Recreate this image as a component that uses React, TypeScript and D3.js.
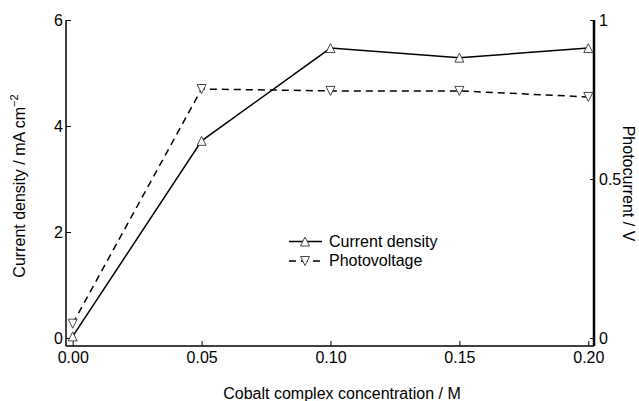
import React, { useEffect, useRef } from 'react';
import * as d3 from 'd3';

// cobalt complex concentration (M)
const concentrations = [0.0, 0.05, 0.1, 0.15, 0.2];
// current density, mA cm^-2 (left axis)
const currentDensity = [0.03, 3.72, 5.47, 5.29, 5.47];
// photovoltage, V (right axis)
const photovoltage = [0.045, 0.783, 0.777, 0.777, 0.758];

const xTicks = [0, 0.05, 0.1, 0.15, 0.2];
const leftTicks = [0, 2, 4, 6];
const rightTicks = [0, 0.5, 1];

const seriesNames = ['Current density', 'Photovoltage'];

const W = 639;
const H = 401;
const frame = { left: 66, right: 594, top: 20, bottom: 346 };
const FONT = '"Liberation Sans", Arial, Helvetica, sans-serif';

const tri = (up: boolean, w = 9, h = 9) =>
	up
		? `M0,${-h / 2}L${w / 2},${h / 2}L${-w / 2},${h / 2}Z`
		: `M0,${h / 2}L${w / 2},${-h / 2}L${-w / 2},${-h / 2}Z`;

export default function App() {
	const xAxis = useRef<SVGGElement>(null);
	const yAxis = useRef<SVGGElement>(null);
	const y2Axis = useRef<SVGGElement>(null);

	const x = d3.scaleLinear().domain([0, 0.2]).range([72.7, 588.3]);
	const yL = d3.scaleLinear().domain([0, 6]).range([338, 20]);
	const yR = d3.scaleLinear().domain([0, 1]).range([338, 20]);

	const curLine = d3
		.line<number>()
		.x((d, i) => x(concentrations[i]))
		.y(d => yL(d));
	const pvLine = d3
		.line<number>()
		.x((d, i) => x(concentrations[i]))
		.y(d => yR(d));

	useEffect(() => {
		const style = (g: d3.Selection<SVGGElement, unknown, null, undefined>) => {
			g.select('.domain').remove();
			g.selectAll('line').attr('stroke', '#000').attr('stroke-width', 1);
			g.selectAll('text').attr('font-family', FONT).attr('font-size', 16).attr('fill', '#000');
		};
		d3.select(xAxis.current!)
			.call(
				d3.axisBottom(x).tickValues(xTicks).tickFormat(d3.format('.2f')).tickSizeInner(-5).tickSizeOuter(0).tickPadding(6)
			)
			.call(style);
		d3.select(yAxis.current!)
			.call(d3.axisLeft(yL).tickValues(leftTicks).tickFormat(d3.format('d')).tickSizeInner(-5).tickSizeOuter(0).tickPadding(3))
			.call(style);
		d3.select(y2Axis.current!)
			.call(d3.axisRight(yR).tickValues(rightTicks).tickFormat(d3.format('~g')).tickSizeInner(-4).tickSizeOuter(0).tickPadding(5))
			.call(style);
	}, []);

	return (
		<svg
			width={W}
			height={H}
			style={{ position: 'absolute', left: 0, top: 0, background: '#fff' }}
			fontFamily={FONT}
		>
			<rect width={W} height={H} fill="#fff" />

			{/* frame lines */}
			<line x1={frame.left} x2={frame.right} y1={frame.bottom} y2={frame.bottom} stroke="#000" strokeWidth={1.5} />
			<line x1={frame.left} x2={frame.left} y1={frame.top} y2={frame.bottom} stroke="#000" strokeWidth={1.5} />
			<line x1={frame.right} x2={frame.right} y1={frame.top} y2={frame.bottom} stroke="#000" strokeWidth={2.5} />

			<g ref={xAxis} transform={`translate(0,${frame.bottom})`} />
			<g ref={yAxis} transform={`translate(${frame.left},0)`} />
			<g ref={y2Axis} transform={`translate(${frame.right},0)`} />

			<path d={pvLine(photovoltage) || ''} fill="none" stroke="#000" strokeWidth={1.5} strokeDasharray="7,5" />
			<path d={curLine(currentDensity) || ''} fill="none" stroke="#000" strokeWidth={1.5} />

			{photovoltage.map((v, i) => (
				<path
					key={'pv' + i}
					d={tri(false)}
					transform={`translate(${x(concentrations[i])},${yR(v)})`}
					fill="#fff"
					stroke="#333"
					strokeWidth={0.9}
				/>
			))}
			{currentDensity.map((v, i) => (
				<path
					key={'cd' + i}
					d={tri(true)}
					transform={`translate(${x(concentrations[i])},${yL(v)})`}
					fill="#fff"
					stroke="#333"
					strokeWidth={0.9}
				/>
			))}

			{/* legend */}
			<g>
				<line x1={289} x2={322} y1={241.5} y2={241.5} stroke="#000" strokeWidth={1.5} />
				<path d={tri(true)} transform="translate(305,241.5)" fill="#fff" stroke="#333" strokeWidth={0.9} />
				<text x={329} y={246.5} fontSize={16}>{seriesNames[0]}</text>
				<line x1={289} x2={322} y1={261} y2={261} stroke="#000" strokeWidth={1.5} strokeDasharray="7,5" />
				<path d={tri(false)} transform="translate(305,261)" fill="#fff" stroke="#333" strokeWidth={0.9} />
				<text x={329} y={266} fontSize={16}>{seriesNames[1]}</text>
			</g>

			{/* axis titles */}
			<text x={342} y={398.5} fontSize={16} textAnchor="middle">
				Cobalt complex concentration / M
			</text>
			<text transform="translate(25,186) rotate(-90)" fontSize={16} textAnchor="middle">
				Current density / mA cm<tspan fontSize={11} dy={-7}>−2</tspan>
			</text>
			<text transform="translate(623,183.5) rotate(90)" fontSize={16} textAnchor="middle">
				Photocurrent / V
			</text>
		</svg>
	);
}
